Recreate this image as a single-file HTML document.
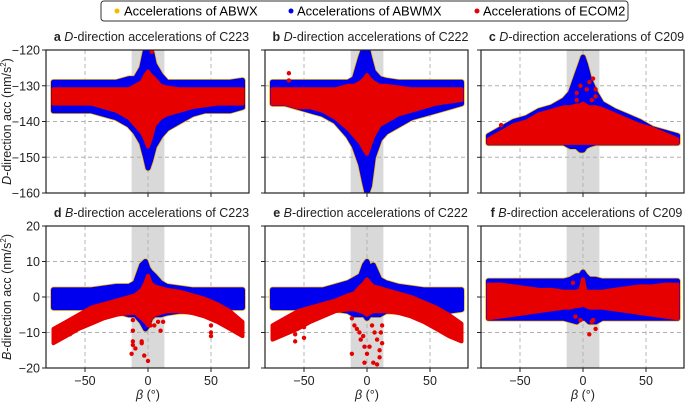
<!DOCTYPE html>
<html><head><meta charset="utf-8"><style>
html,body{margin:0;padding:0;background:#fff}
svg{display:block;font-family:"Liberation Sans",Arial,sans-serif}
</style></head><body>
<svg id="fig" width="685" height="403" viewBox="0 0 685 403">
<g>
<rect x="101" y="1" width="527" height="20" rx="3" fill="#fff" stroke="#333" stroke-width="1"/>
<circle cx="117" cy="11" r="2.5" fill="#f5b800"/>
<text x="124" y="15.5" font-size="13">Accelerations of ABWX</text>
<circle cx="291" cy="11" r="2.5" fill="#0000ee"/>
<text x="297" y="15.5" font-size="13">Accelerations of ABWMX</text>
<circle cx="477" cy="11" r="2.5" fill="#e60000"/>
<text x="483" y="15.5" font-size="13">Accelerations of ECOM2</text>
</g>
</svg>
<script>
const betas = [-75,-65,-55,-45,-35,-25,-15,-10,-5,-2,0,2,5,10,15,25,35,45,55,65,75];
const aBlueHi = [-129,-129,-129,-129,-129,-129,-128,-128,-125,-120,-119,-119,-124,-127,-129,-129,-129,-129,-129,-129,-128.5];
const aBlueLo = [-137,-137,-137,-137,-138,-139,-141,-143,-146,-150,-153,-151,-147,-144,-142,-140,-138,-137,-137,-137,-136];
const aRedHi = [-131,-131,-131,-131,-131,-131,-131,-130,-129,-127,-126,-127,-128,-130,-130.5,-131,-131,-131,-131,-131,-131];
const aRedLo = [-135,-135,-135,-135,-136,-137,-139,-141,-143,-145,-147,-145,-141,-139,-138,-137,-136,-135.5,-135,-135,-135];
const bBlueHi = [-129,-129,-129,-129,-129,-129,-129,-128,-122,-119,-119,-122,-126,-128,-128.5,-129,-129,-129,-129,-129,-129];
const bBlueLo = [-135,-135,-136,-137,-138,-140,-144,-147,-152,-157,-160,-158,-150,-145,-143,-141,-139,-138,-137,-136,-135];
const bRedHi = [-131,-131,-131,-131,-131,-131,-130,-130,-129,-128,-127,-128,-129,-130,-130,-130.5,-131,-131,-131,-131,-131];
const bRedLo = [-135,-135,-136,-136,-137,-139,-142,-144,-146,-148,-149,-147,-144,-141,-140,-138,-137,-136,-135,-134.5,-134];
const cBlueHi = [-144,-142,-140,-139,-137,-136,-134,-132,-127,-124,-122,-124,-128,-132,-135,-137,-138.5,-140,-142,-143,-144];
const cBlueLo = [-146,-146,-146,-146,-146,-146,-146,-147,-147,-148,-148,-147,-146.5,-146,-146,-146,-146,-146,-146,-146,-146];
const cRedHi = [-145,-143,-141,-140,-138,-137,-136,-136,-135.5,-135.5,-135,-135.5,-136,-136,-136.5,-138,-139.5,-141,-142,-143.5,-145];
const cRedLo = [-146,-146,-146,-146,-146,-146,-146,-146,-146,-146,-146,-146,-146,-146,-146,-146,-146,-146,-146,-146,-146];
const dBlueHi = [2,2,2,2,2.5,3,3,4,9,10,8,7,6,4,3,2.5,2,2,2,2,2];
const dBlueLo = [-3,-3,-3,-3,-3.5,-4,-5,-5,-7,-9,-8,-6,-5,-5,-4.5,-4,-4,-3.5,-3,-3,-3];
const dRedHi = [-9,-7,-5,-3,-2,-1,0,0.5,2,4,6,4,3,2.5,2,1.5,0.5,-0.5,-2,-4,-7];
const dRedLo = [-13,-11,-9,-7.5,-6,-5,-4.5,-4.5,-6,-7,-8,-6,-5,-4.5,-4,-4,-4.5,-5.5,-7,-9,-11];
const eBlueHi = [2,2,2,2,2,3,4,5,6,9,10,8,9,5,4,3,2.5,2,2,2,2];
const eBlueLo = [-3,-3,-3,-3,-3,-3.5,-4,-5,-5,-5,-6,-5,-5,-5,-4,-4,-4,-4,-4,-4,-3.5];
const eRedHi = [-8,-6,-4,-3,-2,-1,0.5,1,3,4,5,4,3,2.5,2,1,0,-1.5,-3,-5,-7.5];
const eRedLo = [-12,-10.5,-9,-7,-5.5,-4,-3.5,-3.5,-4,-4.5,-5,-4.5,-4,-4,-4,-4.5,-5.5,-7,-9,-11,-12.5];
const fBlueHi = [4.5,4.5,4.5,4.5,4.5,4.5,4.5,5,6,6,7,6,5,5,4.5,4.5,4.5,4.5,4.5,4.5,4.5];
const fBlueLo = [-6,-6,-6,-6,-6,-6,-6,-6.5,-7,-6,-6,-6,-7,-7,-6,-6,-6,-6,-6,-6,-6];
const fRedHi = [3.5,3.5,3,2.5,2,2,1.5,1.5,1.5,2,5,1.5,1.5,1.5,1.5,2,2.5,3,3,3.5,3.5];
const fRedLo = [-6,-5.5,-5,-4.5,-4,-3.5,-3,-3,-2.5,-2.5,-2,-2.5,-3,-3,-3,-3.5,-4,-4.5,-5,-5.5,-6];
const aOutB = [-3,3,5];
const aOutV = [-129.5,-120.5,-128];
const bOutB = [-62,-62];
const bOutV = [-126.5,-128.5];
const cOutB = [-65,-5,-2,3,5,8,10,10,7,-5];
const cOutV = [-141,-132,-130,-131,-129,-128,-131,-133,-134,-134];
const dOutB = [-62,-12,-12,-12,-12,-13,-10,-5,-5,-3,0,2,5,8,10,12,50,50,50];
const dOutV = [-10.5,-6.5,-9.5,-12.5,-13.5,-16,-14.5,-13,-12.5,-16.5,-18,-8,-8,-7,-9.5,-7,-8,-10,-11];
const eOutB = [-57,-57,-50,-50,-12,-10,-8,-6,-5,-12,-3,-2,-2,0,2,4,5,6,8,8,10,10,11,12,12];
const eOutV = [-10.5,-12.5,-8.5,-11.5,-6,-8,-9,-10,-12,-16,-11,-14,-18.5,-16,-14,-8,-18.5,-10,-12,-19,-15,-17,-10,-8,-13];
const fOutB = [-8,-6,5,7,8,10,-2];
const fOutV = [4,-5.5,-10.5,-7,-6.5,-9,-6.5];
const topTicks = [-120,-130,-140,-150,-160];
const botTicks = [20,10,0,-10,-20];
const xTicks = [-50,0,50];

const NS='http://www.w3.org/2000/svg';
const svg=document.getElementById('fig');
function mk(tag,attrs,parent){const e=document.createElementNS(NS,tag);for(const k in attrs)e.setAttribute(k,attrs[k]);(parent||svg).appendChild(e);return e;}

const panels=[
 {id:'a',letter:'a',dir:'D',sat:'C223',x0:46,x1:249,zero:148,y0:50,y1:193,ymax:-120,ymin:-160,ticks:topTicks,showY:true,showX:false,bh:aBlueHi,bl:aBlueLo,rh:aRedHi,rl:aRedLo,ob:aOutB,ov:aOutV},
 {id:'b',letter:'b',dir:'D',sat:'C222',x0:265,x1:468,zero:367,y0:50,y1:193,ymax:-120,ymin:-160,ticks:topTicks,showY:false,showX:false,bh:bBlueHi,bl:bBlueLo,rh:bRedHi,rl:bRedLo,ob:bOutB,ov:bOutV},
 {id:'c',letter:'c',dir:'D',sat:'C209',x0:481,x1:684,zero:583,y0:50,y1:193,ymax:-120,ymin:-160,ticks:topTicks,showY:false,showX:false,bh:cBlueHi,bl:cBlueLo,rh:cRedHi,rl:cRedLo,ob:cOutB,ov:cOutV},
 {id:'d',letter:'d',dir:'B',sat:'C223',x0:46,x1:249,zero:148,y0:226,y1:368,ymax:20,ymin:-20,ticks:botTicks,showY:true,showX:true,bh:dBlueHi,bl:dBlueLo,rh:dRedHi,rl:dRedLo,ob:dOutB,ov:dOutV},
 {id:'e',letter:'e',dir:'B',sat:'C222',x0:265,x1:468,zero:367,y0:226,y1:368,ymax:20,ymin:-20,ticks:botTicks,showY:false,showX:true,bh:eBlueHi,bl:eBlueLo,rh:eRedHi,rl:eRedLo,ob:eOutB,ov:eOutV},
 {id:'f',letter:'f',dir:'B',sat:'C209',x0:481,x1:684,zero:583,y0:226,y1:368,ymax:20,ymin:-20,ticks:botTicks,showY:false,showX:true,bh:fBlueHi,bl:fBlueLo,rh:fRedHi,rl:fRedLo,ob:fOutB,ov:fOutV}
];

panels.forEach(p=>{
 const sx=b=>p.zero+b*1.26;
 const sy=v=>p.y0+(p.ymax-v)/(p.ymax-p.ymin)*(p.y1-p.y0);
 const g=mk('g',{});
 
 
 const cp=mk('clipPath',{id:'clip-'+p.id},g);
 mk('rect',{x:p.x0,y:p.y0,width:p.x1-p.x0,height:p.y1-p.y0},cp);
 const band=mk('rect',{x:sx(-13),y:p.y0,width:sx(13)-sx(-13),height:p.y1-p.y0,fill:'#d9d9d9'},g);
 
 
 xTicks.forEach(t=>{
  const l=mk('line',{x1:sx(t),x2:sx(t),y1:p.y0,y2:p.y1,stroke:'#b0b0b0','stroke-dasharray':'4,3','stroke-width':0.9},g);
  
  
 });
 p.ticks.forEach(t=>{
  if(t===p.ymax||t===p.ymin)return;
  const l=mk('line',{x1:p.x0,x2:p.x1,y1:sy(t),y2:sy(t),stroke:'#b0b0b0','stroke-dasharray':'4,3','stroke-width':0.9},g);
  
  
 });
 const dg=mk('g',{'clip-path':'url(#clip-'+p.id+')'},g);
 function poly(hi,lo,color,sw,name){
  let pts=[];
  betas.forEach((b,i)=>pts.push(sx(b).toFixed(1)+','+sy(hi[i]).toFixed(1)));
  for(let i=betas.length-1;i>=0;i--)pts.push(sx(betas[i]).toFixed(1)+','+sy(lo[i]).toFixed(1));
  const e=mk('polygon',{points:pts.join(' '),fill:color,stroke:color,'stroke-width':sw,'stroke-linejoin':'round'},dg);
  
  
 }
 poly(p.bh,p.bl,'#f5b800',6.5,'abwx-scatter');
 poly(p.bh,p.bl,'#0000ee',5,'abwmx-scatter');
 poly(p.rh,p.rl,'#e60000',4,'ecom2-scatter');
 p.ob.forEach((b,i)=>{
  const c=mk('circle',{cx:sx(b),cy:sy(p.ov[i]),r:2.2,fill:'#e60000'},dg);
  
  
 });
 const fr=mk('rect',{x:p.x0,y:p.y0,width:p.x1-p.x0,height:p.y1-p.y0,fill:'none',stroke:'#222','stroke-width':1.2},g);
 
 
 xTicks.forEach(t=>{
  mk('line',{x1:sx(t),x2:sx(t),y1:p.y1,y2:p.y1+4,stroke:'#222','stroke-width':1},g);
  if(p.showX){
   const tx=mk('text',{x:sx(t),y:p.y1+17,'font-size':12.5,'text-anchor':'middle',fill:'#222'},g);
   tx.textContent=(t<0?'\u2212':'')+Math.abs(t);
   
   
  }
 });
 p.ticks.forEach(t=>{
  mk('line',{x1:p.x0-4,x2:p.x0,y1:sy(t),y2:sy(t),stroke:'#222','stroke-width':1},g);
  if(p.showY){
   const tx=mk('text',{x:p.x0-6,y:sy(t)+4.5,'font-size':12.5,'text-anchor':'end',fill:'#222'},g);
   tx.textContent=(t<0?'\u2212':'')+Math.abs(t);
   
   
  }
 });
 const tt=mk('text',{x:(p.x0+p.x1)/2+4,y:p.y0-9,'font-size':12.5,'text-anchor':'middle',fill:'#222'},g);
 tt.innerHTML='<tspan font-weight="bold">'+p.letter+'</tspan> <tspan font-style="italic">'+p.dir+'</tspan>-direction accelerations of '+p.sat;
 
 
 if(p.showX){
  const xl=mk('text',{x:p.zero,y:399,'font-size':12.5,'text-anchor':'middle',fill:'#222'},g);
  xl.innerHTML='<tspan font-style="italic">\u03B2</tspan> (\u00B0)';
  
  
 }
 if(p.showY){
  const cy=(p.y0+p.y1)/2;
  const yl=mk('text',{x:0,y:0,'font-size':12.5,'text-anchor':'middle',fill:'#222',transform:'translate(11,'+cy+') rotate(-90)'},g);
  yl.innerHTML='<tspan font-style="italic">'+p.dir+'</tspan>-direction acc (nm/s<tspan font-size="8" dy="-5">2</tspan><tspan dy="5">)</tspan>';
  
  
 }
});
</script>
</body></html>
